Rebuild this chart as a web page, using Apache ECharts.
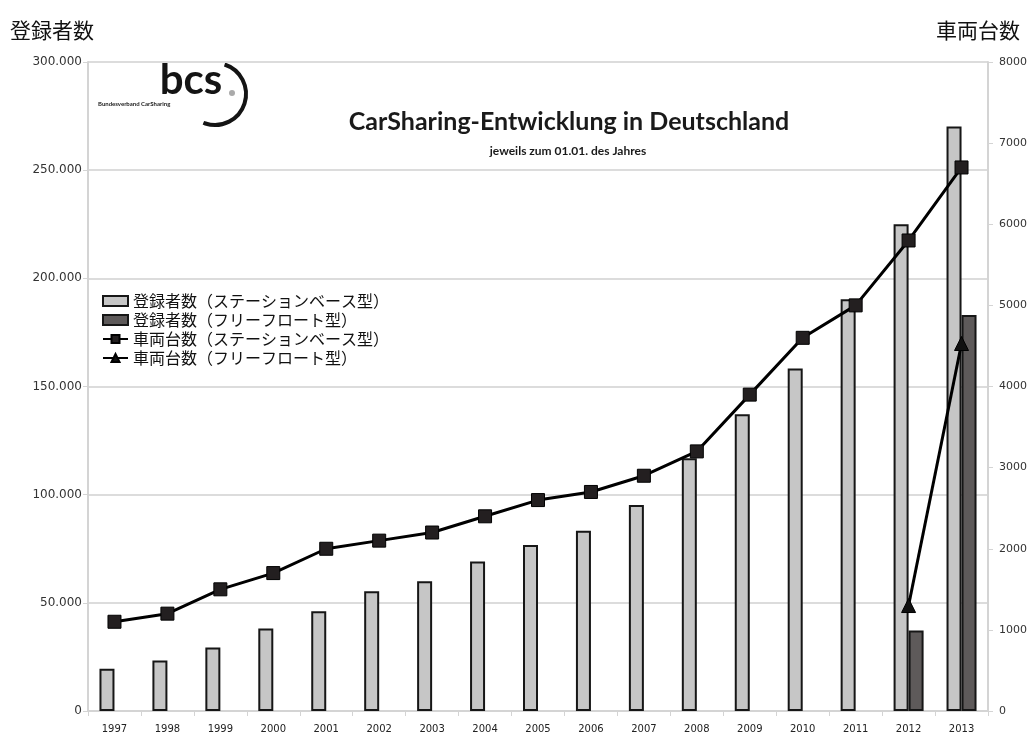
<!DOCTYPE html>
<html>
<head>
<meta charset="utf-8">
<script src="https://cdn.jsdelivr.net/npm/echarts@6/dist/echarts.min.js"></script>
<style>
html,body{margin:0;padding:0;background:#fff;}
#chart{width:1030px;height:740px;}
</style>
</head>
<body>
<div id="chart"></div>
<script>
const years = ['1997','1998','1999','2000','2001','2002','2003','2004','2005','2006','2007','2008','2009','2010','2011','2012','2013'];
const membersStation = [19500, 23300, 29300, 38100, 46100, 55400, 60000, 69100, 76700, 83300, 95200, 116800, 137200, 158300, 190300, 225000, 270200];
const membersFree = [null, null, null, null, null, null, null, null, null, null, null, null, null, null, null, 37200, 183000];
const vehiclesStation = [1100, 1200, 1500, 1700, 2000, 2100, 2200, 2400, 2600, 2700, 2900, 3200, 3900, 4600, 5000, 5800, 6700];
const vehiclesFree = [null, null, null, null, null, null, null, null, null, null, null, null, null, null, null, 1300, 4530];
const seriesNames = ['登録者数（ステーションベース型）', '登録者数（フリーフロート型）', '車両台数（ステーションベース型）', '車両台数（フリーフロート型）'];
const leftAxisName = '登録者数';
const rightAxisName = '車両台数';
const titleText = 'CarSharing-Entwicklung in Deutschland';
const subtitleText = 'jeweils zum 01.01. des Jahres';

const chart = echarts.init(document.getElementById('chart'));
const cjk = '"Noto Sans CJK JP", "Noto Sans", sans-serif';
const fmtDots = v => String(v).replace(/\B(?=(\d{3})+(?!\d))/g, '.');

chart.setOption({
  animation: false,
  backgroundColor: '#ffffff',
  grid: {left: 88, right: 42, top: 62, bottom: 29, containLabel: false},
  legend: {
    orient: 'vertical',
    left: 97,
    top: 288,
    itemWidth: 25,
    itemHeight: 10,
    itemGap: 3,
    textStyle: {fontFamily: cjk, fontSize: 16, color: '#111', lineHeight: 16},
    data: [
      {name: seriesNames[0], icon: 'rect'},
      {name: seriesNames[1], icon: 'rect'},
      {name: seriesNames[2]},
      {name: seriesNames[3]}
    ]
  },
  xAxis: {
    type: 'category',
    data: years,
    boundaryGap: true,
    axisLine: {lineStyle: {color: '#d4d4d4', width: 2}},
    axisTick: {show: true, length: 5, lineStyle: {color: '#d4d4d4'}},
    axisLabel: {fontFamily: 'DejaVu Sans', fontSize: 10, color: '#222', margin: 13}
  },
  yAxis: [
    {
      type: 'value', min: 0, max: 300000, interval: 50000,
      axisLine: {show: true, lineStyle: {color: '#d4d4d4', width: 2}},
      axisTick: {show: true, length: 5, lineStyle: {color: '#d4d4d4'}},
      splitLine: {lineStyle: {color: '#dcdcdc', width: 2}},
      axisLabel: {fontFamily: 'DejaVu Sans', fontSize: 12, color: '#333', margin: 6, formatter: fmtDots}
    },
    {
      type: 'value', min: 0, max: 8000, interval: 1000, alignTicks: false,
      axisLine: {show: true, lineStyle: {color: '#d4d4d4', width: 2}},
      axisTick: {show: true, length: 5, lineStyle: {color: '#d4d4d4'}},
      splitLine: {show: false},
      axisLabel: {fontFamily: 'DejaVu Sans', fontSize: 11, color: '#333', margin: 11, formatter: v => String(v)}
    }
  ],
  series: [
    {
      name: seriesNames[0], type: 'bar', yAxisIndex: 0, data: membersStation,
      barWidth: 15, barGap: '0%',
      itemStyle: {color: '#c6c6c6', borderColor: '#161616', borderWidth: 2}
    },
    {
      name: seriesNames[1], type: 'bar', yAxisIndex: 0, data: membersFree,
      barWidth: 15, barGap: '0%',
      itemStyle: {color: '#5e5a5a', borderColor: '#161616', borderWidth: 2}
    },
    {
      name: seriesNames[2], type: 'line', yAxisIndex: 1, data: vehiclesStation,
      symbol: 'rect', symbolSize: 13, z: 5,
      lineStyle: {color: '#000', width: 3},
      itemStyle: {color: '#231f20', borderColor: '#000', borderWidth: 1}
    },
    {
      name: seriesNames[3], type: 'line', yAxisIndex: 1, data: vehiclesFree,
      symbol: 'triangle', symbolSize: 14, z: 5, connectNulls: false,
      lineStyle: {color: '#000', width: 3},
      itemStyle: {color: '#111', borderColor: '#000', borderWidth: 1}
    }
  ],
  graphic: [
    {type: 'text', left: 10, top: 20, style: {text: leftAxisName, fontFamily: cjk, fontSize: 21, fill: '#111'}},
    {type: 'text', right: 10, top: 20, style: {text: rightAxisName, fontFamily: cjk, fontSize: 21, fill: '#111'}},
    {type: 'text', x: 569, y: 122, style: {text: titleText, fontFamily: 'Lato', fontWeight: 'bold', fontSize: 25, fill: '#1a1a1a', align: 'center', verticalAlign: 'middle'}},
    {type: 'text', x: 568, y: 151, style: {text: subtitleText, fontFamily: 'Lato', fontWeight: 'bold', fontSize: 12, fill: '#1a1a1a', align: 'center', verticalAlign: 'middle'}},
    {type: 'text', x: 191, y: 80, style: {text: 'bcs', fontFamily: 'Lato', fontWeight: 'bold', fontSize: 42, fill: '#141414', align: 'center', verticalAlign: 'middle'}},
    {type: 'circle', shape: {cx: 232, cy: 93, r: 3}, style: {fill: '#aaaaaa'}},
    {type: 'arc', shape: {cx: 215, cy: 94, r: 31, startAngle: -72 * Math.PI / 180, endAngle: 112 * Math.PI / 180, clockwise: true}, style: {stroke: '#141414', lineWidth: 4, fill: null}},
    {type: 'text', x: 98, y: 104, style: {text: 'Bundesverband CarSharing', fontFamily: 'Lato', fontWeight: 'bold', fontSize: 6, fill: '#222', verticalAlign: 'middle'}}
  ]
});
</script>
</body>
</html>
